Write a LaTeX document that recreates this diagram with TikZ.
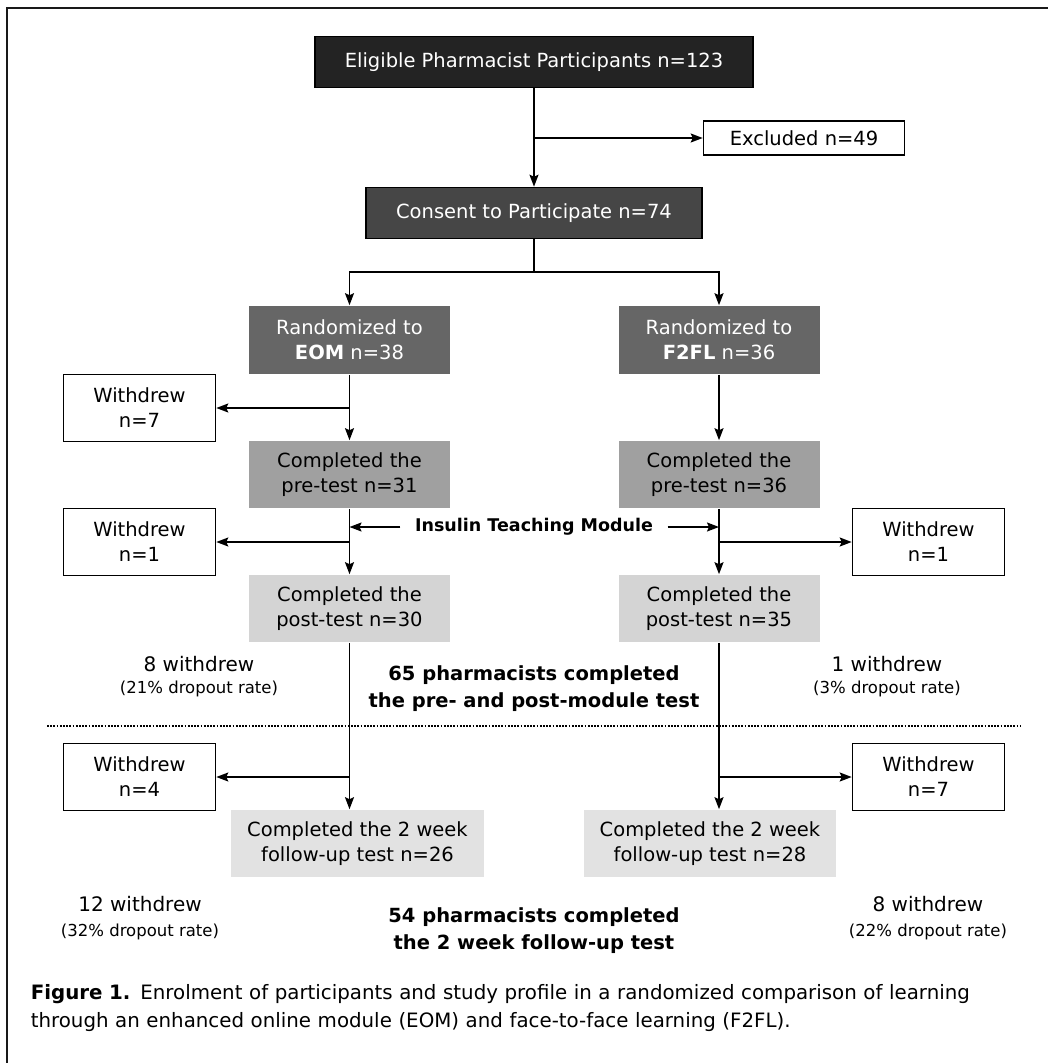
\documentclass[tikz,border=0pt]{standalone}
\usepackage{fontspec}
\setmainfont{DejaVu Sans}
\usetikzlibrary{positioning, calc, arrows.meta}

\definecolor{boxA}{HTML}{232323}
\definecolor{boxB}{HTML}{464646}
\definecolor{boxC}{HTML}{666666}
\definecolor{boxD}{HTML}{A0A0A0}
\definecolor{boxE}{HTML}{D4D4D4}
\definecolor{boxF}{HTML}{E2E2E2}

\tikzset{
	darkbox/.style = {draw = black, fill = #1, text = white, inner sep = 0pt, align = center,
		font = \fontsize{19.5}{25}\selectfont},
	greybox/.style = {fill = #1, text = black, inner sep = 0pt, align = center,
		font = \fontsize{19.5}{25}\selectfont},
	outbox/.style = {draw = black, line width = 1.6pt, fill = white, inner sep = 0pt, align = center,
		minimum width = 152pt, minimum height = 67pt, font = \fontsize{19.5}{25}\selectfont},
	note/.style = {align = center, inner sep = 0pt, font = \fontsize{20}{25}\selectfont},
	subnote/.style = {align = center, inner sep = 0pt, font = \fontsize{16.5}{20}\selectfont},
	total/.style = {align = center, inner sep = 0pt, font = \bfseries\fontsize{19.5}{27}\selectfont}
}

\begin{document}
\begin{tikzpicture}[x = 1pt, y = -1pt, > = {Stealth[length = 12pt, width = 9pt, inset = 2pt]}, line width = 1.6pt]

	\useasboundingbox (0, 0) rectangle (1048, 1063);

	% Frame

	\draw [line width = 2.5pt, black!90] (7, 1063) -- (7, 8) -- (1048, 8);

	% Top of the flow

	\node [darkbox = boxA, minimum width = 438pt, minimum height = 51pt] (elig) at (534, 62)
		{Eligible Pharmacist Participants n=123};
	\node [outbox, minimum width = 201pt, minimum height = 34pt] (excl) at (804, 138) {Excluded n=49};
	\node [darkbox = boxB, minimum width = 336pt, minimum height = 51pt] (consent) at (534, 213)
		{Consent to Participate n=74};

	% Randomized arms

	\node [darkbox = boxC, draw = none, minimum width = 201pt, minimum height = 68pt] (randE) at (349.5, 340)
		{Randomized to\\\textbf{EOM} n=38};
	\node [darkbox = boxC, draw = none, minimum width = 201pt, minimum height = 68pt] (randF) at (719, 340)
		{Randomized to\\\textbf{F2FL} n=36};

	\node [greybox = boxD, minimum width = 201pt, minimum height = 67pt] (preE) at (349.5, 474.5)
		{Completed the\\pre-test n=31};
	\node [greybox = boxD, minimum width = 201pt, minimum height = 67pt] (preF) at (719, 474.5)
		{Completed the\\pre-test n=36};

	\node [greybox = boxE, minimum width = 201pt, minimum height = 67pt] (postE) at (349.5, 608.5)
		{Completed the\\post-test n=30};
	\node [greybox = boxE, minimum width = 201pt, minimum height = 67pt] (postF) at (719, 608.5)
		{Completed the\\post-test n=35};

	\node [greybox = boxF, minimum width = 253pt, minimum height = 67pt] (fuE) at (357.5, 843.5)
		{Completed the 2 week\\follow-up test n=26};
	\node [greybox = boxF, minimum width = 252pt, minimum height = 67pt] (fuF) at (710, 843.5)
		{Completed the 2 week\\follow-up test n=28};

	% Withdrawals

	\node [outbox] (wdA) at (139.5, 408) {Withdrew\\n=7};
	\node [outbox] (wdB) at (139.5, 542) {Withdrew\\n=1};
	\node [outbox] (wdC) at (928.5, 542) {Withdrew\\n=1};
	\node [outbox] (wdD) at (139.5, 777) {Withdrew\\n=4};
	\node [outbox] (wdE) at (928.5, 777) {Withdrew\\n=7};

	% Module label

	\node [font = \bfseries\fontsize{17.5}{20}\selectfont, inner sep = 0pt] (module) at (534, 527)
		{Insulin Teaching Module};

	% Notes between the boxes

	\node [note] (dropA) at (199, 664) {8 withdrew};
	\node [subnote] (rateA) at (199, 689) {(21\% dropout rate)};
	\node [note] (dropB) at (887, 664) {1 withdrew};
	\node [subnote] (rateB) at (887, 689) {(3\% dropout rate)};
	\node [total] (sumA) at (534, 689) {65 pharmacists completed\\the pre- and post-module test};

	\node [note] (dropC) at (140, 904) {12 withdrew};
	\node [subnote] (rateC) at (140, 932) {(32\% dropout rate)};
	\node [note] (dropD) at (928, 904) {8 withdrew};
	\node [subnote] (rateD) at (928, 932) {(22\% dropout rate)};
	\node [total] (sumB) at (534, 931) {54 pharmacists completed\\the 2 week follow-up test};

	% Dotted divider

	\coordinate (divL) at (47, 726);
	\coordinate (divR) at (1021, 726);
	\draw [line width = 2.6pt, dash pattern = on 1.8pt off 1.4pt] (divL) -- (divR);

	% Branch points

	\coordinate (exA) at (elig.south |- excl.west);
	\coordinate (split) at (534, 272);
	\coordinate (brA) at (randE.south |- wdA.east);
	\coordinate (brB) at (preE.south |- wdB.east);
	\coordinate (brC) at (preF.south |- wdC.west);
	\coordinate (brD) at (postE.south |- wdD.east);
	\coordinate (brE) at (postF.south |- wdE.west);
	\coordinate (modL) at (preE.south |- module.west);
	\coordinate (modR) at (preF.south |- module.east);

	% Connectors

	\begin{scope}[->]

		\draw (elig) -- (consent);
		\draw (exA) -- (excl);
		\draw (consent) -- (split) -| (randE);
		\draw (split) -| (randF);

		\draw (randE) -- (preE);
		\draw (randF) -- (preF);
		\draw (brA) -- (wdA);

		\draw (preE) -- (postE);
		\draw (preF) -- (postF);
		\draw (brB) -- (wdB);
		\draw (brC) -- (wdC);

		\draw (postE.south) -- (postE.south |- fuE.north);
		\draw (postF.south) -- (postF.south |- fuF.north);
		\draw (brD) -- (wdD);
		\draw (brE) -- (wdE);

		\draw ([xshift = -14pt] module.west) -- (modL);
		\draw ([xshift = 14pt] module.east) -- (modR);

	\end{scope}

	% Caption

	\node [anchor = north west, inner sep = 0pt, align = left, text width = 1010pt,
		font = \fontsize{19.8}{28}\selectfont] (caption) at (30, 984)
		{\textbf{Figure 1.} Enrolment of participants and study profile in a randomized comparison of learning\\
		through an enhanced online module (EOM) and face-to-face learning (F2FL).};

\end{tikzpicture}
\end{document}
